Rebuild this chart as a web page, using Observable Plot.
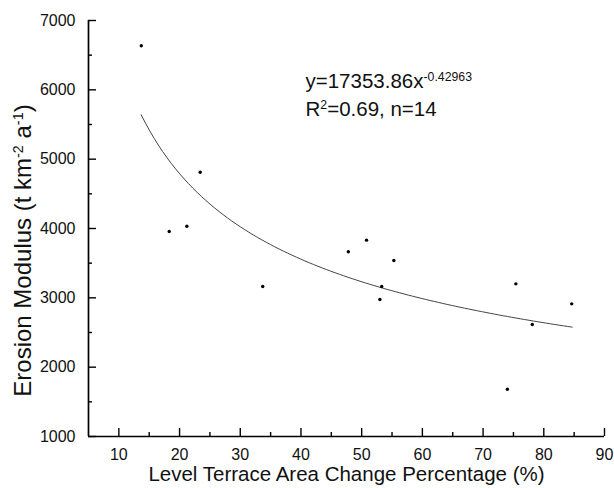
<!DOCTYPE html>
<html><head><meta charset="utf-8">
<script src="https://cdn.jsdelivr.net/npm/d3@7"></script>
<script src="https://cdn.jsdelivr.net/npm/@observablehq/plot@0.6"></script>
<style>
body{margin:0;background:#fff}
#chart svg{font-family:"Liberation Sans",Arial,sans-serif;background:#fff}
</style>
</head><body><div id="chart"></div>
<script>
// Data
const terraceChange = [13.7, 18.3, 21.2, 23.4, 33.7, 47.8, 50.8, 53.0, 53.3, 55.3, 74.0, 75.4, 78.1, 84.6];
const erosionModulus = [6635, 3957, 4033, 4812, 3163, 3664, 3832, 2976, 3163, 3538, 1682, 3202, 2615, 2913];
const xTicks = [10, 20, 30, 40, 50, 60, 70, 80, 90];
const xMinorTicks = [15, 25, 35, 45, 55, 65, 75, 85];
const yTicks = [1000, 2000, 3000, 4000, 5000, 6000, 7000];
const yMinorTicks = [1500, 2500, 3500, 4500, 5500, 6500];
// Fitted power curve shown on the chart: y = a * x^b
const fitA = 17353.86, fitB = -0.42963;
const fitRange = [13.67, 84.67];
const xLabel = "Level Terrace Area Change Percentage (%)";
const yLabel = "Erosion Modulus (t km-2 a-1)";
const eqLine1 = "y=17353.86x-0.42963";
const eqLine2 = "R2=0.69, n=14";

const points = terraceChange.map((x, i) => ({x, y: erosionModulus[i]}));
const fitX = d3.range(0, 101).map(i => fitRange[0] + (fitRange[1] - fitRange[0]) * i / 100);
const fit = fitX.map(x => ({x, y: fitA * Math.pow(x, fitB)}));

const chart = Plot.plot({
  width: 614, height: 488,
  marginLeft: 88, marginRight: 10, marginTop: 20, marginBottom: 52,
  x: {domain: [5, 90]},
  y: {domain: [1000, 7000]},
  marks: [
    Plot.ruleX([5], {stroke: "#000", strokeWidth: 1.7}),
    Plot.ruleY([1000], {stroke: "#000", strokeWidth: 1.7}),
    Plot.axisX(xTicks, {tickSize: -8, tickPadding: 20, fontSize: 16, stroke: "#000", strokeWidth: 1.4, fill: "#111", label: null, tickFormat: d => String(d)}),
    Plot.axisX(xMinorTicks, {tickSize: -4, tickFormat: () => "", stroke: "#000", strokeWidth: 1.4, label: null}),
    Plot.axisY(yTicks, {tickSize: -8, tickPadding: 21, fontSize: 16, stroke: "#000", strokeWidth: 1.4, fill: "#111", label: null, tickFormat: d => String(d)}),
    Plot.axisY(yMinorTicks, {tickSize: -4, tickFormat: () => "", stroke: "#000", strokeWidth: 1.4, label: null}),
    Plot.line(fit, {x: "x", y: "y", stroke: "#444", strokeWidth: 1}),
    Plot.dot(points, {x: "x", y: "y", r: 1.7, fill: "#000", stroke: null}),
    Plot.text([xLabel], {frameAnchor: "bottom", dy: 44, fontSize: 20.5, fill: "#111", lineAnchor: "bottom"}),
    Plot.text([yLabel], {frameAnchor: "left", dx: -65, dy: 22, rotate: -90, fontSize: 24, fill: "#111", textAnchor: "middle", lineAnchor: "middle"}),
    Plot.text([eqLine1], {frameAnchor: "top-left", dx: 217, dy: 67, fontSize: 20.5, fill: "#111", textAnchor: "start", lineAnchor: "bottom"}),
    Plot.text([eqLine2], {frameAnchor: "top-left", dx: 217, dy: 95, fontSize: 20.5, fill: "#111", textAnchor: "start", lineAnchor: "bottom"})
  ]
});
document.getElementById("chart").appendChild(chart);

// Superscripts
function sup(sel, parts) {
  const t = d3.select(sel);
  t.text(null);
  parts.forEach(([s, isSup]) => {
    const ts = t.append("tspan").text(s);
    if (isSup) ts.attr("baseline-shift", "super").attr("font-size", "0.6em");
  });
}
d3.select(chart).selectAll("text").each(function() {
  const s = this.textContent;
  if (s === yLabel) sup(this, [["Erosion Modulus (t km", false], ["-2", true], [" a", false], ["-1", true], [")", false]]);
  else if (s === eqLine1) sup(this, [["y=17353.86x", false], ["-0.42963", true]]);
  else if (s === eqLine2) sup(this, [["R", false], ["2", true], ["=0.69, n=14", false]]);
});
</script>
</body></html>
